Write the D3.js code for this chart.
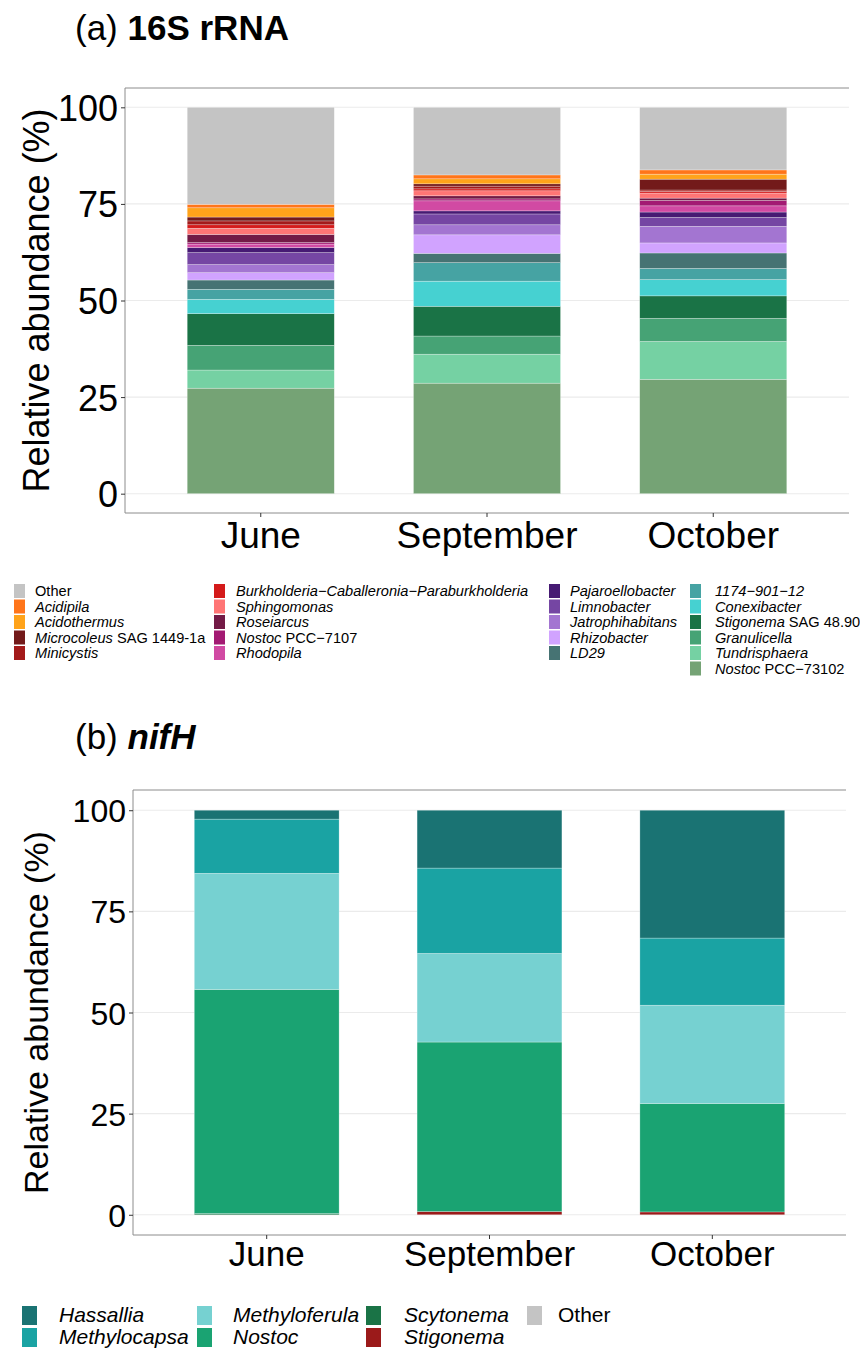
<!DOCTYPE html>
<html>
<head>
<meta charset="utf-8">
<script src="https://cdn.jsdelivr.net/npm/d3@7"></script>
<style>
  body { margin: 0; background: #fff; }
  svg text { font-family: "Liberation Sans", Arial, Helvetica, sans-serif; fill: #000; }
</style>
</head>
<body>
<svg id="fig" width="860" height="1349"></svg>
<script>
// ---------- data ----------
const months = ["June", "September", "October"];
const yTicks = [0, 25, 50, 75, 100];

// 16S rRNA genera, listed top of stack first
const taxa16S = ["Other", "Acidipila", "Acidothermus", "Microcoleus", "Minicystis",
  "Burkholderia\u2212Caballeronia\u2212Paraburkholderia", "Sphingomonas", "Roseiarcus", "Nostoc", "Rhodopila",
  "Pajaroellobacter", "Limnobacter", "Jatrophihabitans", "Rhizobacter", "LD29",
  "1174\u2212901\u221212", "Conexibacter", "Stigonema", "Granulicella", "Tundrisphaera", "Nostoc "];
const strain16S = ["", "", "", " SAG 1449-1a", "", "", "", "", " PCC\u22127107", "",
  "", "", "", "", "", "", "", " SAG 48.90", "", "", " PCC\u221273102"];
const june16S      = [25.1, 0.9, 2.4, 1.0, 1.0, 0.9, 1.6, 2.1, 0.4, 0.9, 1.3, 3.1, 2.1, 1.9, 2.4, 2.6, 3.7, 8.2, 6.4, 4.7, 27.3];
const september16S = [17.5, 1.0, 1.3, 0.6, 0.7, 0.5, 1.3, 0.8, 0.5, 2.6, 0.8, 2.8, 2.6, 4.8, 2.4, 4.8, 6.5, 7.7, 4.7, 7.5, 28.6];
const october16S   = [16.2, 1.1, 1.3, 2.8, 0.4, 0.4, 1.3, 0.6, 1.4, 1.6, 1.4, 2.3, 4.3, 2.6, 4.0, 2.9, 4.2, 5.8, 6.0, 9.8, 29.6];
const colors16S = ["#c4c4c4", "#ff751a", "#ffa31a", "#731a1a", "#a31a1a", "#d41a1a", "#ff7575", "#731a46",
  "#a31a73", "#d14aa3", "#461a73", "#7546a3", "#a375d1", "#d1a3ff", "#467373", "#46a3a3", "#46d1d1",
  "#1a7346", "#46a375", "#75d1a3", "#75a375"];

// nifH genera, listed top of stack first
const taxaNifH = ["Hassallia", "Methylocapsa", "Methyloferula", "Nostoc", "Scytonema", "Stigonema", "Other"];
const juneNifH      = [2.2, 13.4, 28.7, 55.4, 0.3, 0.0, 0.0];
const septemberNifH = [14.3, 21.1, 21.9, 41.9, 0.0, 0.8, 0.0];
const octoberNifH   = [31.6, 16.6, 24.3, 26.8, 0.0, 0.7, 0.0];
const colorsNifH = ["#1a7373", "#1aa3a3", "#76d1d1", "#1aa372", "#1a7346", "#9b1a1a", "#c4c4c4"];

// ---------- helpers ----------
const svg = d3.select("#fig");
const FONT = '"Liberation Sans", Arial, Helvetica, sans-serif';

function rowsFrom(taxa, seriesByMonth) {
  return months.map((m, i) => {
    const r = { month: m };
    taxa.forEach((t, j) => { r[t] = seriesByMonth[i][j]; });
    return r;
  });
}

function drawPanel(cfg) {
  const { taxa, colors, series, left, right, top, bottom,
          tickSize, xLabelSize, titleSize, tickLabelX, xLabelY, titleX } = cfg;
  const g = svg.append("g");

  const x = d3.scaleBand().domain(months).range([left, right])
    .paddingInner(0.35).paddingOuter(0.275);
  const y = d3.scaleLinear().domain([-5, 105]).range([bottom, top]);

  // horizontal grid
  g.append("g").selectAll("line").data(yTicks).join("line")
    .attr("x1", left).attr("x2", right)
    .attr("y1", d => y(d)).attr("y2", d => y(d))
    .attr("stroke", "#ebebeb").attr("stroke-width", 1.1);

  // stacked bars (bottom key first)
  const keys = taxa.slice().reverse();
  const stacked = d3.stack().keys(keys)(rowsFrom(taxa, series));
  const colorOf = d3.scaleOrdinal().domain(taxa).range(colors);
  g.append("g").selectAll("g").data(stacked).join("g")
    .attr("fill", d => colorOf(d.key))
    .selectAll("rect").data(d => d.filter(s => s[1] - s[0] > 0)).join("rect")
    .attr("x", d => x(d.data.month))
    .attr("width", x.bandwidth())
    .attr("y", d => y(d[1]))
    .attr("height", d => y(d[0]) - y(d[1]))
    .attr("stroke", "#ffffff").attr("stroke-opacity", 0.45).attr("stroke-width", 0.6);

  // panel frame (top, bottom, left)
  const frame = g.append("g").attr("stroke", "#8c8c8c").attr("stroke-width", 1).attr("fill", "none");
  frame.append("line").attr("x1", left).attr("x2", right).attr("y1", top).attr("y2", top);
  frame.append("line").attr("x1", left).attr("x2", right).attr("y1", bottom).attr("y2", bottom);
  frame.append("line").attr("x1", left).attr("x2", left).attr("y1", top).attr("y2", bottom);

  // y axis
  const yAxis = d3.axisLeft(y).tickValues(yTicks).tickSize(4).tickPadding(3).tickFormat(d3.format("d"));
  const ya = g.append("g").attr("transform", `translate(${left},0)`).call(yAxis);
  ya.select(".domain").remove();
  ya.selectAll(".tick line").attr("stroke", "#333");
  ya.selectAll(".tick text").attr("font-size", tickSize).attr("font-family", FONT).attr("fill", "#000")
    .attr("x", tickLabelX - left).attr("dy", "0.36em");

  // x axis
  const xAxis = d3.axisBottom(x).tickSize(4).tickPadding(4);
  const xa = g.append("g").attr("transform", `translate(0,${bottom})`).call(xAxis);
  xa.select(".domain").remove();
  xa.selectAll(".tick line").attr("stroke", "#333");
  xa.selectAll(".tick text").attr("font-size", xLabelSize).attr("font-family", FONT).attr("fill", "#000")
    .attr("y", xLabelY - bottom).attr("dy", 0);

  // y title
  g.append("text")
    .attr("transform", `translate(${titleX},${(top + bottom) / 2}) rotate(-90)`)
    .attr("text-anchor", "middle").attr("dy", "0.36em")
    .attr("font-size", titleSize)
    .text("Relative abundance (%)");
}

// ---------- panel (a): 16S rRNA ----------
const ta = svg.append("text").attr("x", 75).attr("y", 40).attr("font-size", 35);
ta.append("tspan").text("(a) ");
ta.append("tspan").attr("font-weight", "bold").text("16S rRNA");

drawPanel({
  taxa: taxa16S, colors: colors16S, series: [june16S, september16S, october16S],
  left: 125, right: 849, top: 88, bottom: 513,
  tickSize: 36, xLabelSize: 37, titleSize: 36,
  tickLabelX: 118, xLabelY: 548, titleX: 36
});

// legend (a): four columns, filled column-wise
const legendColsA = [5, 5, 5, 6];
const keyXA = [14, 214, 549, 690];
const textXA = [35, 236, 570, 715];
const legA = svg.append("g");
let idx = 0;
legendColsA.forEach((n, c) => {
  for (let r = 0; r < n; r++, idx++) {
    const cy = 591 + r * 15.5;
    legA.append("rect").attr("x", keyXA[c]).attr("y", cy - 7).attr("width", 11).attr("height", 14)
      .attr("fill", colors16S[idx]);
    const t = legA.append("text").attr("x", textXA[c]).attr("y", cy + 5).attr("font-size", 14.6);
    if (taxa16S[idx] === "Other") {
      t.text("Other");
    } else {
      t.append("tspan").attr("font-style", "italic").text(taxa16S[idx].trim());
      if (strain16S[idx]) t.append("tspan").text(strain16S[idx]);
    }
  }
});

// ---------- panel (b): nifH ----------
const tb = svg.append("text").attr("x", 75).attr("y", 749).attr("font-size", 35);
tb.append("tspan").text("(b) ");
tb.append("tspan").attr("font-weight", "bold").attr("font-style", "italic").text("nifH");

drawPanel({
  taxa: taxaNifH, colors: colorsNifH, series: [juneNifH, septemberNifH, octoberNifH],
  left: 133, right: 846, top: 790, bottom: 1235,
  tickSize: 32, xLabelSize: 35, titleSize: 34,
  tickLabelX: 126, xLabelY: 1266, titleX: 36
});

// legend (b): two rows, filled column-wise
const keyXB = [22, 197, 366, 527];
const textXB = [59, 233, 404, 558];
const legB = svg.append("g");
taxaNifH.forEach((t, i) => {
  const c = Math.floor(i / 2), r = i % 2;
  const cy = 1315 + r * 22;
  legB.append("rect").attr("x", keyXB[c]).attr("y", cy - 9).attr("width", 15).attr("height", 19)
    .attr("fill", colorsNifH[i]);
  legB.append("text").attr("x", textXB[c]).attr("y", cy + 7).attr("font-size", 21)
    .attr("font-style", t === "Other" ? "normal" : "italic").text(t);
});
</script>
</body>
</html>
